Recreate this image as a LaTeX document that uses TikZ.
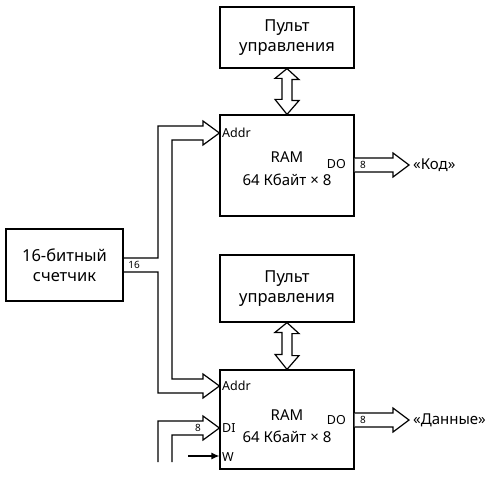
\documentclass[tikz,border=0pt]{standalone}
\usepackage{fontspec}
\setmainfont{Noto Sans}
\usetikzlibrary{calc,arrows.meta}
\tikzset{
  blk/.style={draw, line width=1.2pt, rectangle, inner sep=0pt, minimum width=134pt, align=center, font=\fontsize{16.5}{20}\selectfont},
  bus/.style={draw, line width=1.2pt, line join=miter, fill=white},
  port/.style={inner sep=0pt, font=\fontsize{12.5}{14}\selectfont},
  lbl/.style={inner sep=0pt, font=\fontsize{15}{17}\selectfont},
  wid/.style={inner sep=0pt, font=\fontsize{10}{11}\selectfont},
}
\begin{document}
\begin{tikzpicture}[x=1pt,y=-1pt]
\useasboundingbox (0,0) rectangle (489,476);
% blocks
\node[blk, minimum height=61pt] (pult1) at (287,37.5) {Пульт\\управления};
\node[blk, minimum height=101pt] (ram1) at (287,165.5) {};
\node[blk, minimum height=67pt] (pult2) at (287,288.5) {Пульт\\управления};
\node[blk, minimum height=99pt] (ram2) at (287,419.5) {};
\node[blk, minimum width=117pt, minimum height=72pt] (cnt) at (64.5,265) {16-битный\\счетчик};
% RAM texts
\node[lbl] (r1a) at (287,157) {RAM};
\node[lbl] (r1b) at (287,180) {64 Кбайт × 8};
\node[lbl] (r2a) at (287,415) {RAM};
\node[lbl] (r2b) at (287,437) {64 Кбайт × 8};
\node[port, anchor=west] (r1addr) at (222,133) {Addr};
\node[port, anchor=east] (r1do) at (346,164) {DO};
\node[port, anchor=west] (r2addr) at (222,386) {Addr};
\node[port, anchor=west] (r2di) at (222,428) {DI};
\node[port, anchor=west] (r2w) at (222,457) {W};
\node[port, anchor=east] (r2do) at (346,420) {DO};
% double arrows
\draw[bus] (pult1.south) -- ++(12,11) -- ++(-7,0) -- ++(0,21) -- ++(7,0) -- (ram1.north) -- ++(-12,-15) -- ++(7,0) -- ++(0,-21) -- ++(-7,0) -- cycle;
\draw[bus] (pult2.south) -- ++(12,11) -- ++(-7,0) -- ++(0,22) -- ++(7,0) -- (ram2.north) -- ++(-12,-15) -- ++(7,0) -- ++(0,-22) -- ++(-7,0) -- cycle;
% address bus
\draw[bus, fill=none] (cnt.east |- 0,258) -- (158,258) -- (158,126) -- (203,126) -- (203,121)
  -- (ram1.west |- 0,133) -- (203,145) -- (203,140) -- (172,140) -- (172,379) -- (203,379) -- (203,374)
  -- (ram2.west |- 0,386) -- (203,398) -- (203,393) -- (158,393) -- (158,272) -- (cnt.east |- 0,272);
\node[wid] (w16) at (134,265) {16};
% DI bus
\coordinate (dio) at (158,462);
\coordinate (dii) at (172,462);
\draw[bus, fill=none] (dio) -- (158,421) -- (203,421) -- (203,416) -- (ram2.west |- 0,428) -- (203,440) -- (203,435) -- (172,435) -- (dii);
\node[wid] (w8di) at (198,428) {8};
% W
\coordinate (ws) at (188,456);
\draw[line width=1.2pt, -{Latex[length=8pt,width=7pt]}] (ws) -- (ram2.west |- ws);
% DO buses
\draw[bus] (ram1.east |- 0,158) -- (393,158) -- (393,153) -- (409,165) -- (393,177) -- (393,172) -- (ram1.east |- 0,172);
\node[wid] (w8a) at (363,165) {8};
\node[lbl, anchor=west] (kod) at (413,165) {«Код»};
\draw[bus] (ram2.east |- 0,413) -- (393,413) -- (393,408) -- (409,420) -- (393,432) -- (393,427) -- (ram2.east |- 0,427);
\node[wid] (w8b) at (363,420) {8};
\node[lbl, anchor=west] (dan) at (413,420) {«Данные»};
\end{tikzpicture}
\end{document}
